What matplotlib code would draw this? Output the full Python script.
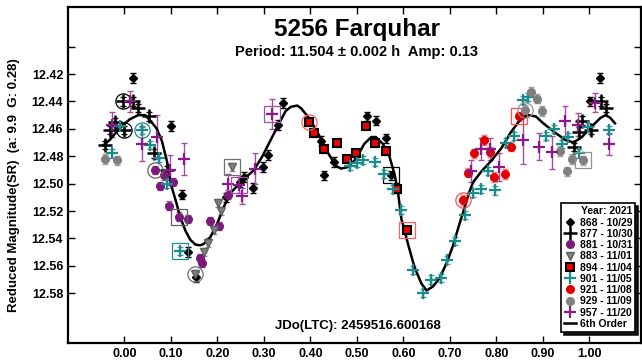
import matplotlib.pyplot as plt
import matplotlib.ticker as ticker
import numpy as np

plt.rcParams['font.family'] = ['Liberation Sans', 'DejaVu Sans']
plt.rcParams['font.weight'] = 'bold'

# 868 - 10/29
x_868 = [0.019, 0.100, 0.124, 0.138, 0.154, 0.219, 0.248, 0.257, 0.276, 0.298, 0.310,
         0.331, 0.341, 0.423, 0.430, 0.450, 0.522, 0.541, 0.563, 0.574, 1.002, 1.022]
y_868 = [12.423, 12.458, 12.508, 12.550, 12.568, 12.510, 12.499, 12.495, 12.503, 12.488, 12.479,
         12.457, 12.441, 12.469, 12.494, 12.484, 12.451, 12.454, 12.467, 12.494, 12.440, 12.423]
err_868 = 0.0035

# 877 - 10/30
x_877 = [-0.041, -0.031, -0.020, -0.001, -0.002, 0.018, 0.030, 0.054, 0.063, 0.092,
         0.966, 0.977, 0.984, 1.004, 1.024, 1.035]
y_877 = [12.472, 12.461, 12.455, 12.461, 12.440, 12.440, 12.445, 12.451, 12.478, 12.490,
         12.473, 12.462, 12.454, 12.461, 12.440, 12.445]
err_877 = 0.003

# 881 - 10/31
x_881 = [0.066, 0.077, 0.086, 0.097, 0.104, 0.117, 0.138, 0.163, 0.167, 0.185, 0.203, 0.222]
y_881 = [12.490, 12.502, 12.494, 12.516, 12.499, 12.524, 12.526, 12.554, 12.558, 12.527, 12.531, 12.508]
err_881 = 0.003

# 883 - 11/01
x_883 = [0.153, 0.172, 0.181, 0.192, 0.201, 0.207, 0.232]
y_883 = [12.566, 12.550, 12.543, 12.534, 12.514, 12.520, 12.488]
err_883 = 0.003

# 894 - 11/04
x_894 = [0.397, 0.408, 0.430, 0.457, 0.479, 0.498, 0.520, 0.540, 0.562, 0.587, 0.608]
y_894 = [12.455, 12.463, 12.475, 12.470, 12.482, 12.478, 12.458, 12.470, 12.476, 12.504, 12.534]
err_894 = 0.003

# 901 - 11/05
x_901 = [-0.027, -0.009, 0.039, 0.056, 0.075, 0.092, 0.120, 0.485, 0.501, 0.514, 0.539, 0.559,
         0.577, 0.594, 0.621, 0.642, 0.659, 0.682, 0.694, 0.711, 0.732, 0.749, 0.768, 0.781,
         0.797, 0.820, 0.839, 0.858, 0.868, 0.906, 0.925, 0.941, 0.953, 0.977, 0.996, 1.043]
y_901 = [12.478, 12.458, 12.461, 12.472, 12.481, 12.500, 12.549, 12.487, 12.485, 12.483, 12.484, 12.493,
         12.504, 12.519, 12.563, 12.580, 12.570, 12.569, 12.556, 12.542, 12.523, 12.507, 12.504, 12.491,
         12.505, 12.470, 12.465, 12.439, 12.437, 12.465, 12.460, 12.471, 12.466, 12.478, 12.459, 12.461]
err_901 = 0.003

# 921 - 11/08
x_921 = [0.728, 0.740, 0.752, 0.773, 0.786, 0.796, 0.819, 0.832, 0.849]
y_921 = [12.512, 12.492, 12.478, 12.468, 12.477, 12.495, 12.493, 12.473, 12.451]
err_921 = 0.0035

# 929 - 11/09
x_929 = [-0.042, -0.016, 0.862, 0.875, 0.887, 0.899, 0.937, 0.952, 0.963, 0.986]
y_929 = [12.482, 12.483, 12.446, 12.433, 12.438, 12.447, 12.476, 12.491, 12.482, 12.483]
err_929 = 0.0035

# 957 - 11/20
x_957 = [-0.027, 0.012, 0.039, 0.070, 0.098, 0.128, 0.223, 0.246, 0.253, 0.282, 0.317,
         0.746, 0.767, 0.786, 0.805, 0.858, 0.891, 0.919, 0.948, 0.976, 1.013, 1.043]
y_957 = [12.457, 12.440, 12.471, 12.466, 12.490, 12.482, 12.500, 12.501, 12.509, 12.489, 12.449,
         12.491, 12.475, 12.475, 12.488, 12.468, 12.473, 12.477, 12.454, 12.457, 12.441, 12.471]
err_957 = [0.009, 0.0075, 0.0125, 0.016, 0.011, 0.012, 0.007, 0.006, 0.006, 0.011, 0.011,
           0.008, 0.008, 0.008, 0.010, 0.018, 0.010, 0.012, 0.011, 0.0085, 0.007, 0.008]

# 6th order fit
fit_x = [-0.045, -0.031, -0.016, -0.002, 0.012, 0.030, 0.045, 0.056, 0.070, 0.081, 0.092, 0.099,
         0.112, 0.120, 0.131, 0.142, 0.153, 0.163, 0.171, 0.185, 0.200, 0.214, 0.228, 0.250,
         0.279, 0.297, 0.315, 0.333, 0.347, 0.358, 0.372, 0.380, 0.397, 0.416, 0.437, 0.455,
         0.466, 0.480, 0.498, 0.516, 0.531, 0.541, 0.556, 0.570, 0.581, 0.588, 0.596, 0.610,
         0.624, 0.639, 0.650, 0.664, 0.678, 0.693, 0.707, 0.721, 0.732, 0.743, 0.750, 0.768,
         0.790, 0.811, 0.830, 0.850, 0.868, 0.885, 0.901, 0.927, 0.948, 0.966, 0.984, 1.006,
         1.024, 1.035, 1.045, 1.055]
fit_y = [12.472, 12.468, 12.462, 12.457, 12.453, 12.450, 12.450, 12.454, 12.460, 12.469, 12.484, 12.499,
         12.514, 12.524, 12.534, 12.541, 12.5445, 12.545, 12.544, 12.539, 12.529, 12.517, 12.507, 12.499,
         12.490, 12.480, 12.468, 12.456, 12.447, 12.444, 12.443, 12.445, 12.452, 12.463, 12.477, 12.487,
         12.489, 12.488, 12.482, 12.471, 12.466, 12.466, 12.471, 12.480, 12.493, 12.505, 12.526, 12.544,
         12.561, 12.573, 12.578, 12.575, 12.569, 12.558, 12.545, 12.529, 12.517, 12.505, 12.499, 12.491,
         12.483, 12.474, 12.463, 12.454, 12.450, 12.451, 12.456, 12.463, 12.468, 12.470, 12.466, 12.458,
         12.452, 12.450, 12.452, 12.456]

# points marked with an open circle / open square (session -> indices)
circled = {'877': [3, 4], '881': [0], '883': [0], '894': [0], '901': [2], '921': [0], '929': [2]}
squared = {'868': [19], '881': [5], '883': [6], '894': [10], '901': [6], '921': [8], '929': [9], '957': [7, 10]}

sessions = [
    ('868', '868 - 10/29', x_868, y_868, err_868, dict(marker='D', ms=4, color='black', mec='black'), 'black', 'black'),
    ('877', '877 - 10/30', x_877, y_877, err_877, dict(marker='+', ms=10, mew=1.8, color='black'), 'black', 'black'),
    ('881', '881 - 10/31', x_881, y_881, err_881, dict(marker='o', ms=5.5, color='#7a1a7a', mec='#7a1a7a'), '#a060a0', '#606060'),
    ('883', '883 - 11/01', x_883, y_883, err_883, dict(marker='v', ms=6, color='#808080', mec='#606060'), '#909090', '#707070'),
    ('894', '894 - 11/04', x_894, y_894, err_894, dict(marker='s', ms=6, color='#ee0000', mec='black', mew=1.5), '#ff7070', '#ff6060'),
    ('901', '901 - 11/05', x_901, y_901, err_901, dict(marker='+', ms=9, mew=1.6, color='#1a8c8c'), '#40a0a0', '#1a8c8c'),
    ('921', '921 - 11/08', x_921, y_921, err_921, dict(marker='o', ms=5.5, color='#e00000', mec='#e00000'), '#ff7070', '#ff5050'),
    ('929', '929 - 11/09', x_929, y_929, err_929, dict(marker='o', ms=5.5, color='#808080', mec='#808080'), '#a0a0a0', '#909090'),
    ('957', '957 - 11/20', x_957, y_957, err_957, dict(marker='+', ms=9, mew=1.6, color='#8a1a8a'), '#a050a0', '#a050a0'),
]

fig = plt.figure(figsize=(6.42, 3.6), dpi=100)
ax = fig.add_axes([68 / 642, 17 / 360, 573 / 642, 336 / 360])

for key, label, xs, ys, err, style, ecolor, ringcolor in sessions:
    ax.errorbar(xs, ys, yerr=err, fmt='none', ecolor=ecolor, elinewidth=1, capsize=2, capthick=1, zorder=2)
    ax.plot(xs, ys, linestyle='none', label=label, zorder=4, **style)
    xs_a = np.array(xs)
    ys_a = np.array(ys)
    if key in circled:
        idx = circled[key]
        ax.plot(xs_a[idx], ys_a[idx], linestyle='none', marker='o', ms=11, mfc='none',
                mec=ringcolor, mew=0.9, zorder=4)
    if key in squared:
        idx = squared[key]
        ax.plot(xs_a[idx], ys_a[idx], linestyle='none', marker='s', ms=11, mfc='none',
                mec=ringcolor, mew=0.9, zorder=4)

ax.plot(fit_x, fit_y, color='black', lw=1.8, label='6th Order', zorder=3)

ax.set_xlim(-0.121, 1.111)
ax.set_ylim(12.6163, 12.3711)

ax.xaxis.set_major_locator(ticker.FixedLocator(np.round(np.arange(0, 1.01, 0.1), 2)))
ax.xaxis.set_major_formatter(ticker.FormatStrFormatter('%.2f'))
yticks = np.round(np.arange(12.40, 12.585, 0.02), 2)
ax.yaxis.set_major_locator(ticker.FixedLocator(yticks))
ax.yaxis.set_major_formatter(ticker.FuncFormatter(lambda v, p: '' if v < 12.41 else '%.2f' % v))
ax.tick_params(direction='in', length=5, width=1, top=True, right=True, labelsize=9)
for s in ax.spines.values():
    s.set_linewidth(1.6)

ax.text(0.504, 0.932, '5256 Farquhar', transform=ax.transAxes, ha='center', va='center',
        fontsize=17.5, fontweight='bold')
ax.text(0.504, 0.866, 'Period: 11.504 \u00b1 0.002 h  Amp: 0.13', transform=ax.transAxes,
        ha='center', va='center', fontsize=10.5, fontweight='bold')
ax.text(0.506, 0.051, 'JDo(LTC): 2459516.600168', transform=ax.transAxes, ha='center',
        va='center', fontsize=9.5, fontweight='bold')
fig.text(14 / 642, 1 - 185 / 360, 'Reduced Magnitude(SR)  (a: 9.9  G: 0.28)', rotation=90,
         ha='center', va='center', fontsize=9.5, fontweight='bold')

leg = ax.legend(loc='lower right', bbox_to_anchor=(0.99, 0.033), title='Year: 2021',
                fontsize=7.5, title_fontsize=7.5, fancybox=False, edgecolor='black',
                framealpha=1, shadow={'color': 'black', 'alpha': 0.9}, borderpad=0.3,
                labelspacing=0.12, handlelength=1.2, handletextpad=0.3, borderaxespad=0,
                alignment='right')
leg.get_frame().set_linewidth(1.2)

fig.savefig('out.png', dpi=100)
